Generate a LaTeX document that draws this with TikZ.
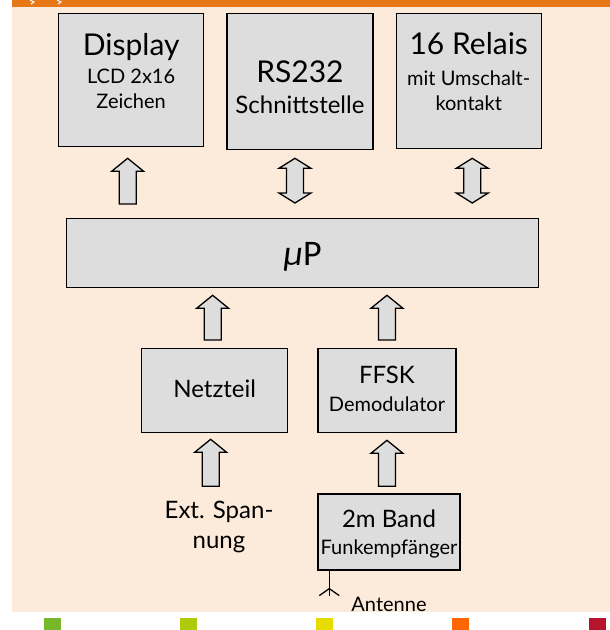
\documentclass[tikz,border=0pt]{standalone}
\usepackage{fontspec}
\setmainfont{Lato}
\newfontfamily\mufont{Carlito}
\usetikzlibrary{calc,positioning}
\definecolor{peach}{HTML}{FCEBDA}
\definecolor{barorange}{HTML}{E77817}
\definecolor{boxgray}{HTML}{DDDDDD}
\definecolor{sqgreen}{HTML}{76B82A}
\definecolor{sqlime}{HTML}{AFCA0B}
\definecolor{sqyellow}{HTML}{E5DC00}
\definecolor{sqorange}{HTML}{FF6600}
\definecolor{sqred}{HTML}{B5152B}
\newcommand{\bigtxt}{\fontsize{30}{34}\selectfont}
\newcommand{\midtxt}{\fontsize{24}{29}\selectfont}
\newcommand{\smalltxt}{\fontsize{20}{25}\selectfont}
\tikzset{box/.style={draw, fill=boxgray, line width=1.3pt, inner sep=0pt,
  align=center, font=\smalltxt, anchor=north west},
fatarrow/.style={draw, fill=boxgray, line width=1.3pt},
node distance=22pt}
% block arrow, #1 = foot, #2 = tip
\newcommand{\fatup}[2]{\draw[fatarrow] let \p1=#1, \p2=#2 in
  (\x1-8.5pt,\y1) -- (\x1-8.5pt,\y2-13pt) -- (\x1-16pt,\y2-13pt) -- (\x1,\y2)
  -- (\x1+16pt,\y2-13pt) -- (\x1+8.5pt,\y2-13pt) -- (\x1+8.5pt,\y1) -- cycle;}
% block arrow with two heads, #1 = lower tip, #2 = upper tip
\newcommand{\fatboth}[2]{\draw[fatarrow] let \p1=#1, \p2=#2 in
  (\x1,\y1) -- (\x1-16pt,\y1+10pt) -- (\x1-8.5pt,\y1+10pt) -- (\x1-8.5pt,\y2-10pt)
  -- (\x1-16pt,\y2-10pt) -- (\x1,\y2) -- (\x1+16pt,\y2-10pt) -- (\x1+8.5pt,\y2-10pt)
  -- (\x1+8.5pt,\y1+10pt) -- (\x1+16pt,\y1+10pt) -- cycle;}

\begin{document}
\begin{tikzpicture}[x=1pt,y=-1pt]
\useasboundingbox (0,0) rectangle (610,630);
\fill[peach] (12,7) rectangle (610,612);
\fill[barorange] (12,0) rectangle (610,7);
\draw[white,line width=1pt] (30,0) -- (34,2) -- (31,4) (57,0) -- (61,2) -- (58,4);
\foreach \c/\x in {sqgreen/44,sqlime/180,sqyellow/316,sqorange/452,sqred/589}
  \fill[\c] (\x,618) rectangle ++(17,12);

\node[box,minimum width=145,minimum height=133,text height=57pt,text depth=0pt] (disp) at (58,13)
  {{\bigtxt Display}\\[3pt]LCD 2x16\\Zeichen};
\node[box,minimum width=146,minimum height=136,text height=64pt,text depth=0pt,
  right=of disp.north east,anchor=north west] (rs)
  {{\bigtxt RS232}\\[6pt]{\midtxt Schnittstelle}};
\node[box,minimum width=145,minimum height=135,text height=59pt,text depth=0pt,
  right=of rs.north east,anchor=north west] (relais)
  {{\bigtxt 16 Relais}\\[6pt]mit Umschalt-\\kontakt};
\node[box,minimum width=472,minimum height=69,text height=32pt,text depth=7pt] (mup) at (66,218)
  {\mufont\fontsize{36}{40}\selectfont\textit{μ}P};
\node[box,minimum width=146,minimum height=84,text height=14pt,text depth=0pt] (netz) at (141,348)
  {\midtxt Netzteil};
\node[box,minimum width=138,minimum height=84,text height=42pt,text depth=0pt,
  right=29pt of netz.north east,anchor=north west] (ffsk)
  {{\midtxt FFSK}\\[3pt]Demodulator};
\node[box,minimum width=142,minimum height=76,text height=46pt,text depth=0pt,
  below=60pt of ffsk.south west,anchor=north west] (radio)
  {{\midtxt 2m Band}\\[2pt]Funkempfänger};
\node[font=\midtxt,align=center,anchor=base] (ext) at (219,548) {Ext. Span-\\[1pt]nung};
\node[font=\smalltxt,anchor=base] (antlabel) at (389,611) {Antenne};

\fatup{($(disp.south |- mup.north)+(-3.5,-14)$)}{($(disp.south)+(-3.5,11)$)}
\fatboth{($(rs.south |- mup.north)+(-5,-15)$)}{($(rs.south)+(-5,8)$)}
\fatboth{($(relais.south |- mup.north)+(3.5,-15)$)}{($(relais.south)+(3.5,9)$)}
\fatup{($(netz.north)+(-2,-8)$)}{($(mup.south -| netz.north)+(-2,7)$)}
\fatup{($(ffsk.north)+(0,-8)$)}{($(mup.south -| ffsk.north)+(0,7)$)}
\fatup{($(netz.south)+(-4,53)$)}{($(netz.south)+(-4,6)$)}
\fatup{($(ffsk.south |- radio.north)+(0,-7)$)}{($(ffsk.south)+(0,7)$)}

\coordinate (ant) at ($(radio.south west)+(12,25)$);
\draw[line width=1.3pt] (radio.south -| ant) -- (ant);
\draw[line width=1.3pt] ($(ant)+(-10,0)$) -- ($(ant)+(0,-7)$) -- ($(ant)+(10,0)$);
\end{tikzpicture}
\end{document}
